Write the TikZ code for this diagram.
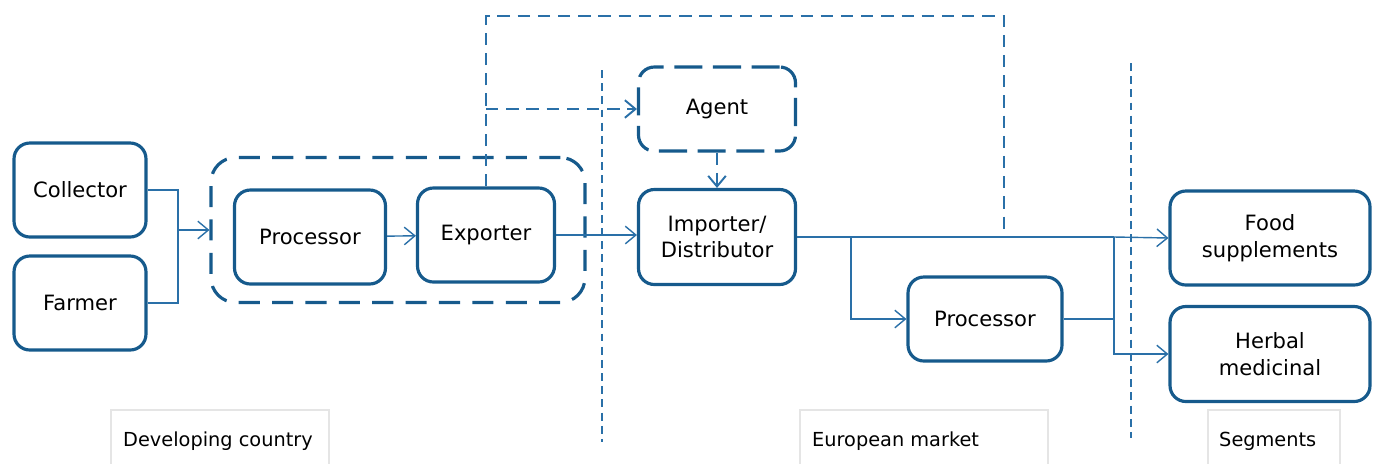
\documentclass[tikz,border=0pt]{standalone}
\usepackage{fontspec}
\setmainfont{DejaVu Sans}
\usetikzlibrary{arrows.meta}
\definecolor{boxblue}{RGB}{22,90,140}
\definecolor{lineblue}{RGB}{42,112,168}

\begin{document}
\begin{tikzpicture}[x=0.02cm, y=-0.02cm,
  actor/.style={draw=boxblue, line width=1.8pt, rounded corners=9pt, align=center,
    inner sep=0pt, font=\fontsize{12}{15}\selectfont},
  flow/.style={draw=lineblue, line width=0.8pt, -{Straight Barb[length=6pt,width=10pt]}},
  link/.style={draw=lineblue, line width=0.8pt},
  via/.style={draw=lineblue, line width=1.1pt, dash pattern=on 7pt off 4.5pt},
  divider/.style={draw=lineblue, line width=1pt, dash pattern=on 4.5pt off 3pt},
  region/.style={anchor=west, font=\fontsize{11}{13}\selectfont},
  tab/.style={draw=gray!20, line width=0.6pt}]

\useasboundingbox (0,0) rectangle (1378,464);

% developing country
\node[actor, minimum width=2.64cm, minimum height=1.88cm] (coll) at (80,190) {Collector};
\node[actor, minimum width=2.64cm, minimum height=1.88cm] (farm) at (80,303) {Farmer};
\node[actor, dash pattern=on 12pt off 7pt, rounded corners=14pt,
  minimum width=7.48cm, minimum height=2.9cm] (group) at (398,230) {};
\node[actor, minimum width=3.02cm, minimum height=1.88cm] (proc) at (310,237) {Processor};
\node[actor, minimum width=2.74cm, minimum height=1.88cm] (exp) at (486,235) {Exporter};

% european market
\node[actor, dash pattern=on 16pt off 6pt, minimum width=3.14cm, minimum height=1.68cm] (agent) at (717,109) {Agent};
\node[actor, minimum width=3.14cm, minimum height=1.9cm] (imp) at (717,237) {Importer/\\Distributor};
\node[actor, minimum width=3.08cm, minimum height=1.68cm] (eproc) at (985,319) {Processor};

% segments
\node[actor, minimum width=4cm, minimum height=1.88cm] (food) at (1270,238) {Food\\supplements};
\node[actor, minimum width=4cm, minimum height=1.9cm] (herb) at (1270,354) {Herbal\\medicinal};

% dividers
\draw[divider] (602,70) -- (602,442);
\draw[divider] (1131,63) -- (1131,438);

% connectors
\coordinate (join) at (178,230);
\draw[link] (coll.east) -| (join);
\draw[link] (farm.east) -| (join);
\draw[flow] (join) -- (group.west);
\draw[flow] (proc) -- (exp);
\draw[flow] (exp.east) -- (imp.west |- exp.east);

\coordinate (split) at (1114,237);
\draw[link] (imp.east) -- (split);
\draw[flow] (851,237) |- (eproc.west);
\draw[link, line width=1.4pt] (eproc.east) -| (split);
\draw[flow] (split) -- (food.west);
\draw[flow] (split) |- (herb.west);

\draw[via] (exp.north) -- (486,16) -- (1004,16) -- (1004,237) -- (split);
\draw[via, -{Straight Barb[length=6pt,width=10pt]}] (486,109) -- (agent.west);
\draw[via, -{Straight Barb[length=6pt,width=10pt]}] (agent.south) -- (imp.north);

% region labels
\draw[tab] (111,464) -- (111,410) -- (329,410) -- (329,464);
\draw[tab] (800,464) -- (800,410) -- (1048,410) -- (1048,464);
\draw[tab] (1208,464) -- (1208,410) -- (1340,410) -- (1340,464);
\node[region] (ldev) at (117,441) {Developing country};
\node[region] (leur) at (806,441) {European market};
\node[region] (lseg) at (1213,441) {Segments};

\end{tikzpicture}
\end{document}
